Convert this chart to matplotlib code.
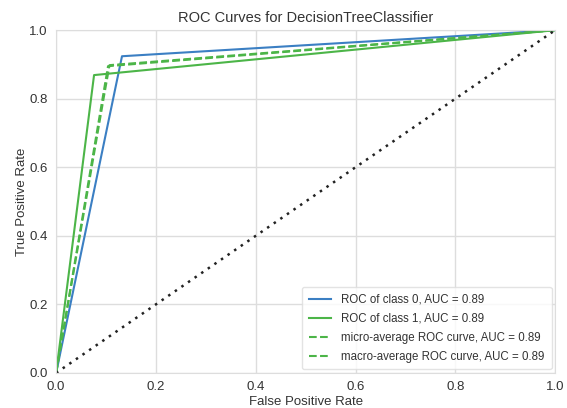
import numpy as np
import matplotlib
matplotlib.use("Agg")
import matplotlib.pyplot as plt

# ROC points
fpr_class0 = [0.0, 0.132, 1.0]
tpr_class0 = [0.0, 0.924, 1.0]
fpr_class1 = [0.0, 0.076, 1.0]
tpr_class1 = [0.0, 0.869, 1.0]
fpr_micro = [0.0, 0.104, 1.0]
tpr_micro = [0.0, 0.895, 1.0]
fpr_macro = [0.0, 0.095, 0.107, 1.0]
tpr_macro = [0.0, 0.80, 0.898, 1.0]
auc = {"class0": 0.89, "class1": 0.89, "micro": 0.89, "macro": 0.89}

blue = '#3b7fc3'
green = '#4cb548'

plt.rcParams['font.family'] = ['Liberation Sans', 'DejaVu Sans']

fig = plt.figure(figsize=(5.67, 4.08), dpi=100)
ax = fig.add_axes([0.099, 0.086, 0.880, 0.840])

ax.plot(fpr_class0, tpr_class0, color=blue, lw=1.5,
        label='ROC of class 0, AUC = %0.2f' % auc["class0"])
ax.plot(fpr_class1, tpr_class1, color=green, lw=1.5,
        label='ROC of class 1, AUC = %0.2f' % auc["class1"])
ax.plot(fpr_micro, tpr_micro, color=green, lw=1.5, ls='--',
        label='micro-average ROC curve, AUC = %0.2f' % auc["micro"])
ax.plot(fpr_macro, tpr_macro, color=green, lw=1.5, ls='--',
        label='macro-average ROC curve, AUC = %0.2f' % auc["macro"])
ax.plot([0, 1], [0, 1], ls=(0, (1, 2.2)), color='#222222', lw=1.8)

ax.set_xlim(0, 1)
ax.set_ylim(0, 1)
ax.set_xticks(np.arange(0, 1.01, 0.2))
ax.set_yticks(np.arange(0, 1.01, 0.2))
ax.grid(True, color='#dddddd', lw=1.0)
ax.set_axisbelow(True)
for s in ax.spines.values():
    s.set_color('#dddddd')
ax.tick_params(length=0, labelsize=9.5, colors='#333333', pad=6)

ax.set_title('ROC Curves for DecisionTreeClassifier', fontsize=10.5, color='#333333')
ax.set_xlabel('False Positive Rate', fontsize=9.5, color='#333333', labelpad=2)
ax.set_ylabel('True Positive Rate', fontsize=9.5, color='#333333', labelpad=1)

leg = ax.legend(loc='lower right', fontsize=8.3, frameon=True, framealpha=0.8,
                edgecolor='#dddddd', borderpad=0.6, handlelength=1.9,
                handletextpad=0.9, labelspacing=0.6, borderaxespad=0.3)
for t in leg.get_texts():
    t.set_color('#333333')

fig.savefig('out.png', dpi=100)
